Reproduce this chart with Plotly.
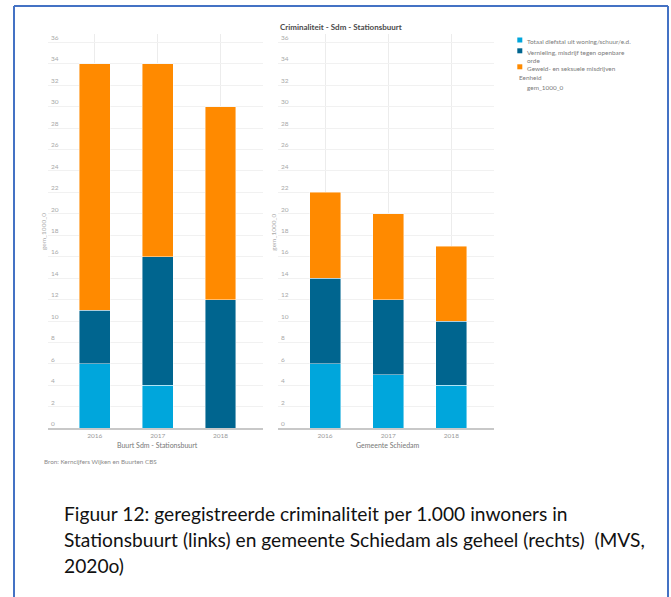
import plotly.graph_objects as go

# ---------------- data ----------------
years = ["2016", "2017", "2018"]
series_names = [
    "Totaal diefstal uit woning/schuur/e.d.",
    "Vernieling, misdrijf tegen openbare<br>orde",
    "Geweld- en seksuele misdrijven",
]
series_colors = ["#00a6dc", "#00658f", "#ff8a00"]

stationsbuurt_diefstal = [6, 4, 0]
stationsbuurt_vernieling = [5, 12, 12]
stationsbuurt_geweld = [23, 18, 18]

schiedam_diefstal = [6, 5, 4]
schiedam_vernieling = [8, 7, 6]
schiedam_geweld = [8, 8, 7]

y_ticks = list(range(0, 37, 2))

title_text = "Criminaliteit - Sdm - Stationsbuurt"
x_title_left = "Buurt Sdm - Stationsbuurt"
x_title_right = "Gemeente Schiedam"
y_title = "gem_1000_0"
legend_group_title = "Eenheid"
legend_unit = "gem_1000_0"
source_text = "Bron: Kerncijfers Wijken en Buurten CBS"
caption_lines = [
    "Figuur 12: geregistreerde criminaliteit per 1.000 inwoners in",
    "Stationsbuurt (links) en gemeente Schiedam als geheel (rechts)  (MVS,",
    "2020o)",
]

# ---------------- layout helpers ----------------
W, H = 671, 597


def px(x):
    return x / W


def py(y):
    return 1 - y / H


FONT = "Lato"
fig = go.Figure()

left = [stationsbuurt_diefstal, stationsbuurt_vernieling, stationsbuurt_geweld]
right = [schiedam_diefstal, schiedam_vernieling, schiedam_geweld]

for vals, name, col in zip(left, series_names, series_colors):
    fig.add_trace(go.Bar(x=years, y=vals, name=name, marker_color=col,
                         marker_line=dict(color="rgba(255,255,255,0.55)", width=0.8),
                         width=0.49, xaxis="x", yaxis="y", showlegend=False))
for vals, name, col in zip(right, series_names, series_colors):
    fig.add_trace(go.Bar(x=years, y=vals, name=name, marker_color=col,
                         marker_line=dict(color="rgba(255,255,255,0.55)", width=0.8),
                         width=0.49, xaxis="x2", yaxis="y2", showlegend=False))

# y scale: 0 at 428.3 px, 36 at 42.3 px; a little headroom so the top label shows
unit_px = (428.3 - 42.3) / 36.0
y_top = 36.8
ydom = [py(428.3), py(428.3 - y_top * unit_px)]

xcommon = dict(type="category", range=[-0.745, 2.675], showgrid=True,
               gridcolor="#ececec", gridwidth=1, showline=True,
               linecolor="#c8c8c8", linewidth=1.5, ticks="",
               tickfont=dict(family=FONT, size=6.5, color="#9a9a9a"),
               fixedrange=True)
ycommon = dict(range=[0, y_top], tickvals=y_ticks, showgrid=True,
               gridcolor="#f1f1f1", gridwidth=1, zeroline=False,
               showline=False, ticks="", ticklabelposition="inside top",
               tickfont=dict(family=FONT, size=6.5, color="#a8a8a8"),
               fixedrange=True)

fig.update_layout(
    width=W, height=H,
    margin=dict(l=0, r=0, t=0, b=0),
    paper_bgcolor="white", plot_bgcolor="white",
    barmode="stack",
    showlegend=False,
    xaxis=dict(domain=[px(48), px(263)], anchor="y", **xcommon),
    yaxis=dict(domain=ydom, anchor="x", **ycommon),
    xaxis2=dict(domain=[px(278), px(494)], anchor="y2", **xcommon),
    yaxis2=dict(domain=ydom, anchor="x2", **ycommon),
)

ann = []


def add_text(x, y, text, size, color, xanchor="left", angle=0, bold=False):
    ann.append(dict(x=px(x), y=py(y), xref="paper", yref="paper",
                    text=("<b>%s</b>" % text) if bold else text,
                    showarrow=False, xanchor=xanchor, yanchor="middle",
                    textangle=angle, align="left",
                    font=dict(family=FONT, size=size, color=color)))


add_text(278, 27, title_text, 8, "#4a4a4a", bold=True)
add_text(157.7, 445, x_title_left, 7, "#777777", xanchor="center")
add_text(388, 445, x_title_right, 7, "#777777", xanchor="center")
add_text(43, 232, y_title, 6.5, "#aaaaaa", xanchor="center", angle=-90)
add_text(272.7, 232, y_title, 6.5, "#aaaaaa", xanchor="center", angle=-90)
add_text(42.3, 461.7, source_text, 6.3, "#8a8a8a")

# legend (manual, compact)
shapes = []
swatch_centers = [40, 50.8, 66.8]
for name, col, sy in zip(series_names, series_colors, swatch_centers):
    shapes.append(dict(type="rect", xref="paper", yref="paper",
                       x0=px(517.3), x1=px(522.3), y0=py(sy + 2.5), y1=py(sy - 2.5),
                       fillcolor=col, line=dict(width=0)))
    ann.append(dict(x=px(525), y=py(sy - 4), xref="paper", yref="paper",
                    text=name, showarrow=False, xanchor="left", yanchor="top",
                    align="left",
                    font=dict(family=FONT, size=6.4, color="#7a7a7a")))
add_text(516.7, 77.3, legend_group_title, 6.4, "#7a7a7a")
add_text(525, 87.7, legend_unit, 6.4, "#7a7a7a")

# caption
for line, yy in zip(caption_lines, [513.5, 539.5, 565]):
    add_text(62, yy, line, 19.2, "#111111")

# border of the figure frame
bc = "#4472c4"
for x0, y0, x1, y1 in [(14, 6, 14, 597), (14, 6, 668, 6), (668, 6, 668, 597)]:
    shapes.append(dict(type="line", xref="paper", yref="paper",
                       x0=px(x0), y0=py(y0), x1=px(x1), y1=py(y1),
                       line=dict(color=bc, width=2)))

fig.update_layout(annotations=ann, shapes=shapes)
fig.write_html("out.html",
               config={"displayModeBar": False, "staticPlot": True},
               post_script="document.body.style.margin='0';document.body.style.overflow='hidden';")
